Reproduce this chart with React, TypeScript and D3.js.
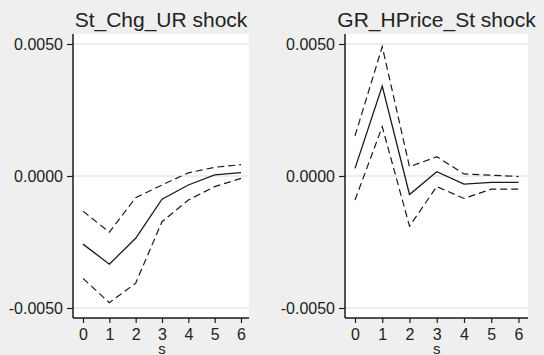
import * as d3 from 'd3'
import { useEffect, useRef } from 'react'

// impulse responses with confidence bands
const steps = [0, 1, 2, 3, 4, 5, 6]
const urIrf = [-0.00258, -0.00334, -0.00236, -0.00088, -0.00034, 0.00004, 0.00013]
const urLo = [-0.00388, -0.0048, -0.00406, -0.00173, -0.00091, -0.0004, -0.00009]
const urHi = [-0.00133, -0.00213, -0.00082, -0.00034, 0.00012, 0.00033, 0.00043]
const hpIrf = [0.00029, 0.00341, -0.0007, 0.00016, -0.00031, -0.00024, -0.00024]
const hpLo = [-0.00091, 0.00187, -0.0019, -0.0004, -0.00085, -0.0005, -0.0005]
const hpHi = [0.00152, 0.0049, 0.00035, 0.00073, 0.00008, 0.00003, -0.00002]
const yTicks = [-0.005, 0, 0.005]
const panels = [
  { title: 'St_Chg_UR shock', irf: urIrf, lo: urLo, hi: urHi },
  { title: 'GR_HPrice_St shock', irf: hpIrf, lo: hpLo, hi: hpHi },
]

export default function App() {
  const ref = useRef<SVGSVGElement>(null)

  useEffect(() => {
    const width = 544,
      height = 355
    const svg = d3.select(ref.current)
    svg.selectAll('*').remove()
    svg.attr('width', width).attr('height', height)
    svg.append('rect').attr('width', width).attr('height', height).attr('fill', '#efefef')

    const font = 'Liberation Sans, Arial, sans-serif'
    const boxes = [
      { left: 73, right: 249, x0: 83, x6: 241 },
      { left: 345, right: 528, x0: 355, x6: 518.5 },
    ]
    const top = 34,
      bottom = 318

    const y = d3.scaleLinear().domain([-0.005, 0.005]).range([308, 44])

    panels.forEach((p, i) => {
      const b = boxes[i]
      const x = d3.scaleLinear().domain([0, 6]).range([b.x0, b.x6])
      const g = svg.append('g')

      g.append('rect')
        .attr('x', b.left)
        .attr('y', top)
        .attr('width', b.right - b.left)
        .attr('height', bottom - top)
        .attr('fill', '#ffffff')

      g.selectAll('line.grid')
        .data(yTicks)
        .join('line')
        .attr('class', 'grid')
        .attr('x1', b.left)
        .attr('x2', b.right)
        .attr('y1', (d) => y(d))
        .attr('y2', (d) => y(d))
        .attr('stroke', '#e6e6e6')
        .attr('stroke-width', 1.5)

      const line = d3
        .line<number>()
        .x((_, k) => x(steps[k]))
        .y((d) => y(d))

      ;[p.hi, p.lo].forEach((s) => {
        g.append('path')
          .datum(s)
          .attr('d', line)
          .attr('fill', 'none')
          .attr('stroke', '#1a1a1a')
          .attr('stroke-width', 1.2)
          .attr('stroke-dasharray', '7,4')
      })
      g.append('path')
        .datum(p.irf)
        .attr('d', line)
        .attr('fill', 'none')
        .attr('stroke', '#1a1a1a')
        .attr('stroke-width', 1.3)

      const yAxis = g
        .append('g')
        .attr('transform', `translate(${b.left},0)`)
        .call(
          d3
            .axisLeft(y)
            .tickValues(yTicks)
            .tickSize(6)
            .tickPadding(4)
            .tickFormat((d) => (+d).toFixed(4))
        )
      yAxis.select('.domain').attr('d', `M0,${top}V${bottom}`)

      const xAxis = g
        .append('g')
        .attr('transform', `translate(0,${bottom})`)
        .call(d3.axisBottom(x).tickValues(steps).tickSize(5).tickPadding(6).tickFormat(d3.format('d')))
      xAxis.select('.domain').attr('d', `M${b.left},0H${b.right}`)

      ;[yAxis, xAxis].forEach((a) => {
        a.select('.domain').attr('stroke', '#1a1a1a').attr('stroke-width', 1.5)
        a.selectAll('.tick line').attr('stroke', '#1a1a1a').attr('stroke-width', 1.2)
        a.selectAll('.tick text').attr('fill', '#222').style('font-family', font).style('font-size', '16px')
      })

      g.append('text')
        .attr('x', (b.left + b.right) / 2)
        .attr('y', 27)
        .attr('text-anchor', 'middle')
        .style('font-family', font)
        .style('font-size', '21px')
        .attr('fill', '#222')
        .text(p.title)

      g.append('text')
        .attr('x', x(3))
        .attr('y', 354)
        .attr('text-anchor', 'middle')
        .style('font-family', font)
        .style('font-size', '15px')
        .attr('fill', '#222')
        .text('s')
    })
  }, [])

  return <svg ref={ref} style={{ position: 'absolute', left: 0, top: 0 }} />
}
